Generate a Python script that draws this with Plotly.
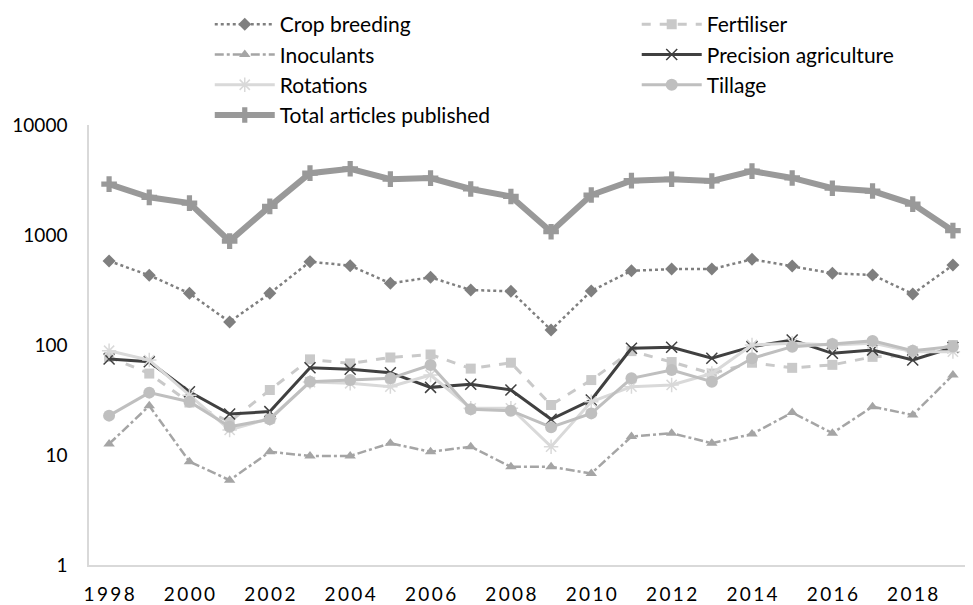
import plotly.graph_objects as go

years = list(range(1998, 2020))
total = [2900, 2200, 1950, 880, 1820, 3650, 4000, 3220, 3290, 2620, 2240, 1070, 2310, 3120, 3210, 3100, 3810, 3300, 2660, 2510, 1910, 1095]
crop_breeding = [580, 430, 295, 162, 295, 572, 526, 364, 412, 316, 308, 137, 310, 473, 490, 490, 601, 522, 449, 433, 291, 533]
fertiliser = [78, 55, 30, 20, 39, 74, 68, 77, 82, 61, 69, 28.5, 48, 88, 70, 55, 69, 62, 66, 78, 80, 100]
inoculants = [12.6, 28, 8.7, 5.9, 10.7, 9.8, 9.8, 12.8, 10.7, 11.9, 7.8, 7.8, 6.8, 14.7, 15.8, 12.8, 15.5, 24.3, 15.8, 27.5, 23.1, 53.4]
precision = [74.6, 70.5, 37.6, 23.6, 24.8, 62.2, 60.1, 56, 41.2, 43.9, 39, 21.1, 31.6, 93.3, 95.3, 75.7, 96.6, 111, 84, 90, 73, 95]
rotations = [88.7, 73, 35, 16.9, 21.5, 46, 44.9, 41.8, 53.4, 26.6, 26.6, 11.9, 30.5, 41.8, 43.3, 55, 100, 104, 100, 104, 87, 87]
tillage = [22.8, 36.9, 30.5, 18.1, 21.1, 46.4, 48, 49.8, 65.8, 26, 25.3, 17.9, 23.9, 49.8, 59.3, 46.4, 75.7, 96.6, 102, 109, 88.8, 97]

x_tick_vals = list(range(1998, 2020, 2))
x_tick_labels = [str(v) for v in x_tick_vals]
y_tick_vals = [1, 10, 100, 1000, 10000]
y_tick_labels = ["1", "10", "100", "1000", "10000"]

FONT = "Lato"

fig = go.Figure()

def add(name, y, color, dash, width, symbol, msize, legend, mline=0, mcolor=None):
    fig.add_trace(go.Scatter(
        x=years, y=y, name=name, mode="lines+markers",
        line=dict(color=color, width=width, dash=dash),
        marker=dict(symbol=symbol, size=msize, color=mcolor or color,
                    line=dict(width=mline, color=mcolor or color)),
        legend=legend,
    ))

add("Crop breeding", crop_breeding, "#7f7f7f", "dot", 2.5, "diamond", 10, "legend")
add("Fertiliser", fertiliser, "#c9c9c9", "dash", 3, "square", 10, "legend2")
add("Inoculants", inoculants, "#a5a5a5", "dashdot", 2.5, "triangle-up", 10, "legend")
add("Precision agriculture", precision, "#404040", "solid", 3, "x-thin-open", 11, "legend2", mline=1.5)
add("Rotations", rotations, "#d9d9d9", "solid", 3, "asterisk-open", 12, "legend", mline=1.5)
add("Tillage", tillage, "#bfbfbf", "solid", 3, "circle", 12, "legend2")
add("Total articles published", total, "#999999", "solid", 6, "cross", 13, "legend")

spaced = ["\u2009".join(list(s)) for s in x_tick_labels]

# the page body has an 8px margin, so the figure is drawn 8px in from the top-left corner
fig.update_layout(
    width=965, height=597,
    margin=dict(l=81, r=0, t=117, b=40, autoexpand=False),
    paper_bgcolor="white", plot_bgcolor="white",
    font=dict(family=FONT, size=19, color="#000000"),
    showlegend=True,
    legend=dict(x=0.1366, y=1.275, xanchor="left", yanchor="top", orientation="v",
                font=dict(family=FONT, size=21), itemwidth=60, bgcolor="rgba(0,0,0,0)"),
    legend2=dict(x=0.6196, y=1.275, xanchor="left", yanchor="top", orientation="v",
                 font=dict(family=FONT, size=21), itemwidth=60, bgcolor="rgba(0,0,0,0)"),
    xaxis=dict(range=[1997.5, 2019.5], tickmode="array", tickvals=x_tick_vals, ticktext=spaced,
               showgrid=False, zeroline=False, showline=True, linecolor="#d9d9d9", linewidth=1.5,
               ticks="", ticklabelstandoff=11, tickfont=dict(family=FONT, size=19)),
    yaxis=dict(type="log", range=[0, 4], tickmode="array", tickvals=y_tick_vals, ticktext=y_tick_labels,
               showgrid=False, zeroline=False, showline=True, linecolor="#d9d9d9", linewidth=1.5,
               ticks="", ticklabelstandoff=16, tickfont=dict(family=FONT, size=19)),
)

fig.write_html("out.html")
